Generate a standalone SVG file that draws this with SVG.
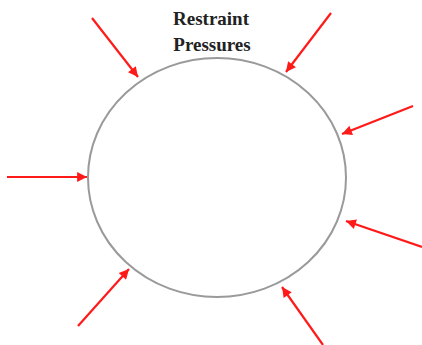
<svg xmlns="http://www.w3.org/2000/svg" width="422" height="345" viewBox="0 0 422 345">
<style>
.arr{stroke:#ff1a1a;stroke-width:2.2;fill:none;marker-end:url(#ah)}
.lbl{font-family:"Liberation Serif","Times New Roman",serif;font-weight:bold;font-size:19px;fill:#222;text-anchor:middle}
</style>
<defs>
<marker id="ah" viewBox="0 0 10 10" refX="10" refY="5" markerWidth="5" markerHeight="4.5" orient="auto" markerUnits="strokeWidth">
<path d="M0,0 L10,5 L0,10 z" fill="#ff1a1a"/>
</marker>
</defs>
<rect width="422" height="345" fill="#fff"/>
<g id="circle">
<ellipse cx="217" cy="177.5" rx="129" ry="119.5" fill="none" stroke="#9a9a9a" stroke-width="2"/>
</g>
<g id="label">
<text class="lbl" x="211" y="25">Restraint</text>
<text class="lbl" x="212" y="51">Pressures</text>
</g>
<g id="connectors">
<line class="arr" x1="92" y1="18" x2="138" y2="77"/>
<line class="arr" x1="331" y1="13" x2="286" y2="72"/>
<line class="arr" x1="413" y1="106" x2="342" y2="134"/>
<line class="arr" x1="7" y1="177" x2="87" y2="177"/>
<line class="arr" x1="422" y1="247" x2="346" y2="221"/>
<line class="arr" x1="78" y1="326" x2="129" y2="269"/>
<line class="arr" x1="323" y1="345" x2="282" y2="287"/>
</g>
</svg>
